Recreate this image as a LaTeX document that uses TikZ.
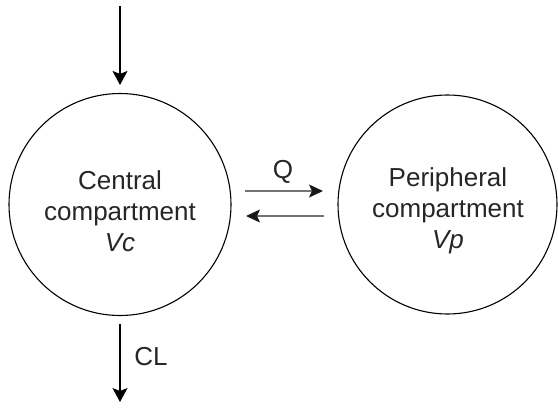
\documentclass[tikz,border=0pt]{standalone}
\usepackage{fontspec}
\setmainfont{Liberation Sans}
\usetikzlibrary{arrows.meta}
\begin{document}
\begin{tikzpicture}[x=1pt,y=-1pt,
  comp/.style={draw=black,line width=1.1pt,circle,inner sep=0pt},
  lbl/.style={text=black!85,font=\fontsize{26}{31}\selectfont,align=center},
  flow/.style={line width=1.1pt,-{Stealth[length=14pt,width=15pt,inset=3pt]}},
  xchg/.style={draw=black!55,line width=1.4pt,-{Stealth[length=14pt,width=13pt,inset=3pt,color=black!90]}}]
\useasboundingbox (0,0) rectangle (558,410);
\node[comp,minimum size=222pt] (c) at (120,204.5) {};
\node[comp,minimum size=219pt] (p) at (447.5,204.5) {};
\node[lbl] (ct) at (120,211) {Central\\compartment\\\textit{Vc}};
\node[lbl] (pt) at (448,211) {Peripheral\\compartment\\\textit{Vp}};
\coordinate (in) at (120,6);
\coordinate (out) at (120,402);
\draw[flow,shorten >=8pt] (in) -- (c.north);
\draw[flow,shorten <=8pt] (c.south) -- (out);
\coordinate (a1) at (245,191);
\coordinate (a2) at (323,191);
\coordinate (b1) at (324,216);
\coordinate (b2) at (246,216);
\draw[xchg] (a1) -- (a2);
\draw[xchg] (b1) -- (b2);
\node[lbl] (q) at (283,172) {Q};
\node[lbl] (cl) at (151,357) {CL};
\end{tikzpicture}
\end{document}
